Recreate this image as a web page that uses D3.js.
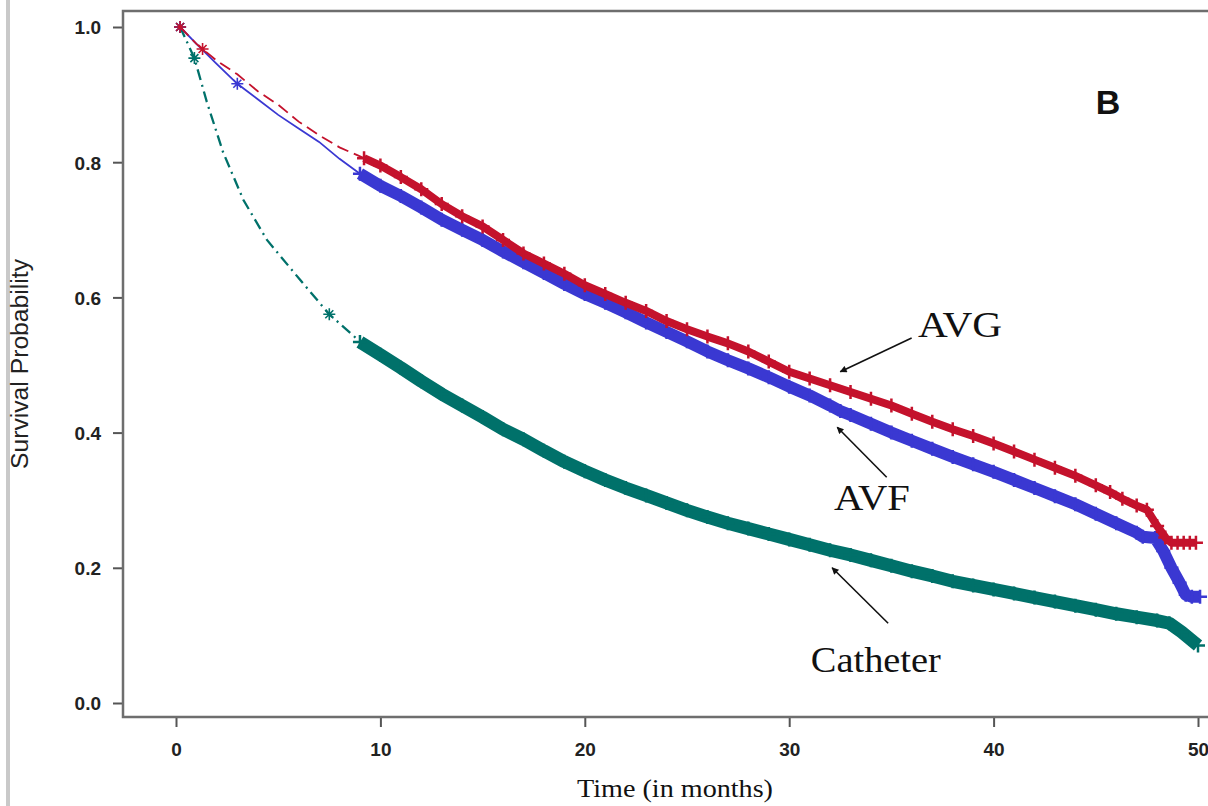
<!DOCTYPE html>
<html>
<head>
<meta charset="utf-8">
<script src="https://cdn.jsdelivr.net/npm/d3@7"></script>
<style>
  html, body { margin: 0; padding: 0; background: #fff; }
  svg { display: block; }
</style>
</head>
<body>
<svg id="chart" width="1208" height="806"></svg>
<script>
// ---- Kaplan-Meier survival estimates by vascular access type ----
const xTicks = [0, 10, 20, 30, 40, 50];
const yTicks = [0.0, 0.2, 0.4, 0.6, 0.8, 1.0];

// AVF
const avfTime = [0.2, 1, 2, 3, 4, 5, 6, 7, 8, 9,
  10, 11, 12, 13, 14, 15, 16, 17, 18, 19, 20, 21, 22, 23, 24, 25, 26, 27, 28, 29,
  30, 31, 32, 32.5, 33, 34, 35, 36, 37, 38, 39, 40, 41, 42, 43, 44, 45, 46, 47,
  47.3, 47.9, 48.3, 48.7, 49.1, 49.4, 49.7, 50.1];
const avfSurv = [1.0, 0.975, 0.945, 0.916, 0.893, 0.870, 0.850, 0.830, 0.805, 0.783,
  0.765, 0.750, 0.733, 0.715, 0.700, 0.685, 0.668, 0.652, 0.636, 0.620, 0.605, 0.592, 0.578, 0.563, 0.549, 0.535, 0.520, 0.507, 0.495, 0.482,
  0.468, 0.455, 0.440, 0.432, 0.426, 0.413, 0.400, 0.388, 0.376, 0.364, 0.353, 0.342, 0.330, 0.318, 0.306, 0.294, 0.280, 0.266, 0.252,
  0.246, 0.244, 0.225, 0.200, 0.178, 0.160, 0.157, 0.157];
const avfEarlyCensor = [0.2, 3.0];

// AVG
const avgTime = [0.2, 1, 2, 3, 4, 5, 6, 7, 8, 9.2,
  10, 11, 12, 13, 14, 15, 16, 17, 18, 19, 20, 21, 22, 23, 24, 25, 26, 27, 28, 29,
  30, 31, 32, 33, 34, 35, 36, 37, 38, 39, 40, 41, 42, 43, 44, 45, 45.7, 46.3, 47, 47.5,
  48, 48.4, 48.7, 49.0, 49.3, 49.6, 49.9];
const avgSurv = [1.0, 0.975, 0.950, 0.930, 0.905, 0.885, 0.860, 0.840, 0.822, 0.806,
  0.795, 0.778, 0.760, 0.738, 0.720, 0.705, 0.685, 0.665, 0.650, 0.635, 0.618, 0.605, 0.592, 0.580, 0.565, 0.553, 0.542, 0.532, 0.520, 0.505,
  0.490, 0.480, 0.470, 0.460, 0.450, 0.440, 0.428, 0.416, 0.405, 0.395, 0.384, 0.372, 0.360, 0.348, 0.336, 0.322, 0.312, 0.302, 0.292, 0.286,
  0.262, 0.245, 0.237, 0.237, 0.237, 0.237, 0.237];
const avgEarlyCensor = [0.2, 1.3];

// Catheter
const catTime = [0.2, 0.9, 1.5, 2.3, 3.3, 4.45, 6.07, 7.5, 8.8,
  9, 10, 11, 12, 13, 14, 15, 16, 17, 18, 19, 20, 21, 22, 23, 24, 25, 26, 27, 28, 29,
  30, 31, 32, 33, 34, 35, 36, 37, 38, 39, 40, 41, 42, 43, 44, 45, 46, 47, 48,
  48.6, 49.2, 49.6, 50.0];
const catSurv = [1.0, 0.954, 0.890, 0.815, 0.744, 0.685, 0.626, 0.575, 0.540,
  0.534, 0.515, 0.496, 0.476, 0.457, 0.440, 0.423, 0.405, 0.390, 0.373, 0.357, 0.343, 0.330, 0.318, 0.307, 0.296, 0.285, 0.275, 0.266, 0.258, 0.250,
  0.242, 0.234, 0.226, 0.219, 0.211, 0.203, 0.195, 0.188, 0.180, 0.174, 0.168, 0.162, 0.156, 0.150, 0.144, 0.138, 0.132, 0.127, 0.122,
  0.118, 0.105, 0.095, 0.085];
const catEarlyCensor = [0.2, 0.9, 7.5];

// curve annotations (label, label baseline position, arrow tail, arrow tip) in data units
const annoLabels = ["AVG", "AVF", "Catheter"];
const annoText = [[38.36, 0.541], [34.05, 0.286], [34.24, 0.046]];
const annoTail = [[35.99, 0.540], [34.77, 0.334], [34.84, 0.118]];
const annoTip = [[32.5, 0.490], [32.35, 0.408], [32.1, 0.200]];

// ---- layout ----
const svg = d3.select("#chart");
const frame = { left: 123, top: 11, bottom: 717, right: 1212 };
const x = d3.scaleLinear().domain([0, 50]).range([176, 1198]);
const y = d3.scaleLinear().domain([0, 1]).range([703, 27]);

// outer page rule on the left
svg.append("line").attr("x1", 8).attr("x2", 8).attr("y1", 0).attr("y2", 806)
  .attr("stroke", "#c9c9c9").attr("stroke-width", 4);

// axes
const yAxis = d3.axisLeft(y).tickValues(yTicks).tickFormat(d3.format(".1f")).tickSize(10).tickPadding(12);
const xAxis = d3.axisBottom(x).tickValues(xTicks).tickFormat(d3.format("d")).tickSize(10).tickPadding(16);

const gy = svg.append("g").attr("transform", `translate(${frame.left},0)`).call(yAxis);
const gx = svg.append("g").attr("transform", `translate(0,${frame.bottom})`).call(xAxis);
[gy, gx].forEach(g => {
  g.select(".domain").remove();
  g.selectAll(".tick line").attr("stroke", "#555").attr("stroke-width", 2);
  g.selectAll(".tick text").attr("fill", "#222")
    .style("font-family", "'Liberation Sans', Arial, sans-serif")
    .style("font-size", "19px").style("font-weight", "bold");
});
gy.selectAll(".tick text").attr("dy", "0.36em");

// plot frame
svg.append("path")
  .attr("d", `M${frame.right},${frame.top}H${frame.left}V${frame.bottom}H${frame.right}`)
  .attr("fill", "none").attr("stroke", "#6e6e6e").attr("stroke-width", 2.5);

// axis titles
svg.append("text")
  .attr("transform", `translate(28,364) rotate(-90)`)
  .attr("text-anchor", "middle")
  .style("font-family", "'Liberation Sans', Arial, sans-serif")
  .style("font-size", "23px").attr("fill", "#222")
  .attr("textLength", 210).attr("lengthAdjust", "spacingAndGlyphs")
  .text("Survival Probability");

svg.append("text")
  .attr("x", (x(0) + x(50)) / 2 - 12).attr("y", 797)
  .attr("text-anchor", "middle")
  .style("font-family", "'Liberation Serif', 'Times New Roman', serif")
  .style("font-size", "25px").attr("fill", "#111")
  .attr("textLength", 196).attr("lengthAdjust", "spacingAndGlyphs")
  .text("Time (in months)");

// panel letter
svg.append("text")
  .attr("x", 1108).attr("y", 114).attr("text-anchor", "middle")
  .style("font-family", "'Liberation Sans', Arial, sans-serif")
  .style("font-size", "34px").style("font-weight", "bold").attr("fill", "#111")
  .text("B");

// ---- curves ----
const series = [
  { name: "Catheter", t: catTime, s: catSurv, cens: catEarlyCensor, color: "#00716a",
    dash: "11,5,2,5", early: 2.3, band: 13, split: 9 },
  { name: "AVF", t: avfTime, s: avfSurv, cens: avfEarlyCensor, color: "#3a38d2",
    dash: null, early: 1.8, band: 12, split: 9 },
  { name: "AVG", t: avgTime, s: avgSurv, cens: avgEarlyCensor, color: "#c4122c",
    dash: "12,6", early: 1.8, band: 8, split: 9.2 }
];

const line = d3.line().x(d => x(d[0])).y(d => y(d[1]));
const plus = (cx, cy, r) => `M${cx - r},${cy}H${cx + r}M${cx},${cy - r}V${cy + r}`;

series.forEach(sr => {
  const pts = sr.t.map((t, i) => [t, sr.s[i]]);
  const early = pts.filter(p => p[0] <= sr.split);
  const dense = pts.filter(p => p[0] >= sr.split);
  const g = svg.append("g");

  // sparse early follow-up drawn as a thin styled line
  g.append("path").attr("d", line(early)).attr("fill", "none")
    .attr("stroke", sr.color).attr("stroke-width", sr.early)
    .attr("stroke-dasharray", sr.dash);

  // dense censoring region: heavy band of overlapping censor marks
  g.append("path").attr("d", line(dense)).attr("fill", "none")
    .attr("stroke", sr.color).attr("stroke-width", sr.band)
    .attr("stroke-linejoin", "round");
  g.selectAll(".cm").data(dense).enter().append("path")
    .attr("d", d => plus(x(d[0]), y(d[1]), 7))
    .attr("stroke", sr.color).attr("stroke-width", 2.5);

  // early censor marks
  const interp = t => {
    const i = d3.bisector(d => d[0]).left(pts, t);
    if (i <= 0) return pts[0][1];
    const a = pts[i - 1], b = pts[i];
    return a[1] + (b[1] - a[1]) * (t - a[0]) / (b[0] - a[0]);
  };
  g.selectAll(".ec").data(sr.cens).enter().append("path")
    .attr("d", t => {
      const cx = x(t), cy = y(interp(t));
      return plus(cx, cy, 6) + `M${cx - 4},${cy - 4}L${cx + 4},${cy + 4}M${cx - 4},${cy + 4}L${cx + 4},${cy - 4}`;
    })
    .attr("stroke", sr.color).attr("stroke-width", 1.6).attr("fill", "none");
});

// ---- annotations ----
svg.append("defs").append("marker")
  .attr("id", "arrowhead").attr("viewBox", "0 0 10 10")
  .attr("refX", 9).attr("refY", 5)
  .attr("markerWidth", 9).attr("markerHeight", 7).attr("markerUnits", "userSpaceOnUse")
  .attr("orient", "auto")
  .append("path").attr("d", "M0,0L10,5L0,10Z").attr("fill", "#111");

const annoWidths = [84, 76, 130];
annoLabels.forEach((lab, i) => {
  svg.append("line")
    .attr("x1", x(annoTail[i][0])).attr("y1", y(annoTail[i][1]))
    .attr("x2", x(annoTip[i][0])).attr("y2", y(annoTip[i][1]))
    .attr("stroke", "#111").attr("stroke-width", 1.6)
    .attr("marker-end", "url(#arrowhead)");
  svg.append("text")
    .attr("x", x(annoText[i][0])).attr("y", y(annoText[i][1]))
    .attr("text-anchor", "middle")
    .style("font-family", "'Liberation Serif', 'Times New Roman', serif")
    .style("font-size", "36px").attr("fill", "#111")
    .attr("textLength", annoWidths[i]).attr("lengthAdjust", "spacingAndGlyphs")
    .text(lab);
});
</script>
</body>
</html>
